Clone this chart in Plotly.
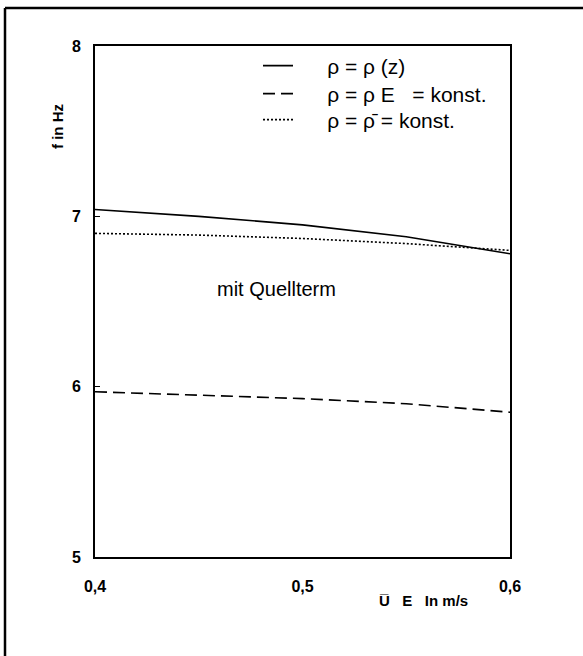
import plotly.graph_objects as go

# Data
u_vals = [0.4, 0.45, 0.5, 0.55, 0.6]
f_rho_z = [7.04, 7.00, 6.95, 6.88, 6.78]
f_rho_E = [5.97, 5.95, 5.93, 5.90, 5.85]
f_rho_bar = [6.90, 6.89, 6.87, 6.84, 6.80]
NB = "\u00a0"
names = [NB * 5 + "ρ = ρ (z)",
         NB * 5 + "ρ = ρ E" + NB * 2 + " = konst.",
         NB * 5 + "ρ = ρ\u0304 = konst."]
x_ticks = [0.4, 0.5, 0.6]
x_ticktext = ["0,4", "0,5", "0,6"]
y_ticks = [5, 6, 7, 8]

FONT = "Liberation Sans, Arial, sans-serif"

fig = go.Figure()
fig.add_trace(go.Scatter(x=u_vals, y=f_rho_z, mode="lines", name=names[0],
                         line=dict(color="black", width=1.6, dash="solid"), legend="legend"))
fig.add_trace(go.Scatter(x=u_vals, y=f_rho_E, mode="lines", name=names[1],
                         line=dict(color="black", width=1.6, dash="12px,6px"), legend="legend2"))
fig.add_trace(go.Scatter(x=u_vals, y=f_rho_bar, mode="lines", name=names[2],
                         line=dict(color="black", width=1.6, dash="2px,2px"), legend="legend3"))

leg_common = dict(xanchor="left", yanchor="middle", bgcolor="rgba(0,0,0,0)",
                  font=dict(family=FONT, size=21, color="black"), itemwidth=30)
LX = (258 - 95) / 415
fig.update_layout(
    width=583, height=656,
    margin=dict(l=95, r=73, t=46, b=99),
    paper_bgcolor="white", plot_bgcolor="white",
    font=dict(family=FONT, color="black"),
    legend=dict(x=LX, y=(557 - 66) / 511, **leg_common),
    legend2=dict(x=LX, y=(557 - 94) / 511, **leg_common),
    legend3=dict(x=LX, y=(557 - 120) / 511, **leg_common),
    showlegend=True,
)
fig.update_xaxes(range=[0.4, 0.6], tickvals=x_ticks, ticktext=x_ticktext,
                 showgrid=False, zeroline=False, showline=True, linecolor="black",
                 linewidth=2, mirror=True, ticks="", ticklabelstandoff=14,
                 tickfont=dict(family=FONT, size=16, color="black", weight="bold"))
fig.update_yaxes(range=[5, 8], tickvals=y_ticks,
                 showgrid=False, zeroline=False, showline=True, linecolor="black",
                 linewidth=2, mirror=True, ticks="inside", ticklen=5, tickwidth=1.2,
                 tickcolor="black", ticklabelstandoff=9,
                 tickfont=dict(family=FONT, size=16, color="black", weight="bold"))

fig.add_annotation(text="mit Quellterm", xref="paper", yref="paper",
                   x=(276 - 95) / 415, y=(557 - 289) / 511, showarrow=False,
                   xanchor="center", yanchor="middle",
                   font=dict(family=FONT, size=20, color="black"))
fig.add_annotation(text="<b>f in Hz</b>", xref="paper", yref="paper",
                   x=(57 - 95) / 415, y=(557 - 127) / 511, showarrow=False, textangle=-90,
                   xanchor="center", yanchor="middle",
                   font=dict(family=FONT, size=15, color="black"))
fig.add_annotation(text="<b>U\u0305" + NB * 3 + "E" + NB * 3 + "In m/s</b>", xref="paper", yref="paper",
                   x=(423 - 95) / 415, y=(557 - 600) / 511, showarrow=False,
                   xanchor="center", yanchor="middle",
                   font=dict(family=FONT, size=15, color="black"))

# outer frame (left and top edges of the page border)
fig.add_shape(type="line", xref="paper", yref="paper",
              x0=(5 - 95) / 415, x1=(5 - 95) / 415, y0=(557 - 700) / 511, y1=(557 - 8) / 511,
              line=dict(color="black", width=2.5))
fig.add_shape(type="line", xref="paper", yref="paper",
              x0=(5 - 95) / 415, x1=(600 - 95) / 415, y0=(557 - 8) / 511, y1=(557 - 8) / 511,
              line=dict(color="black", width=2.5))

fig.write_html("out.html")
